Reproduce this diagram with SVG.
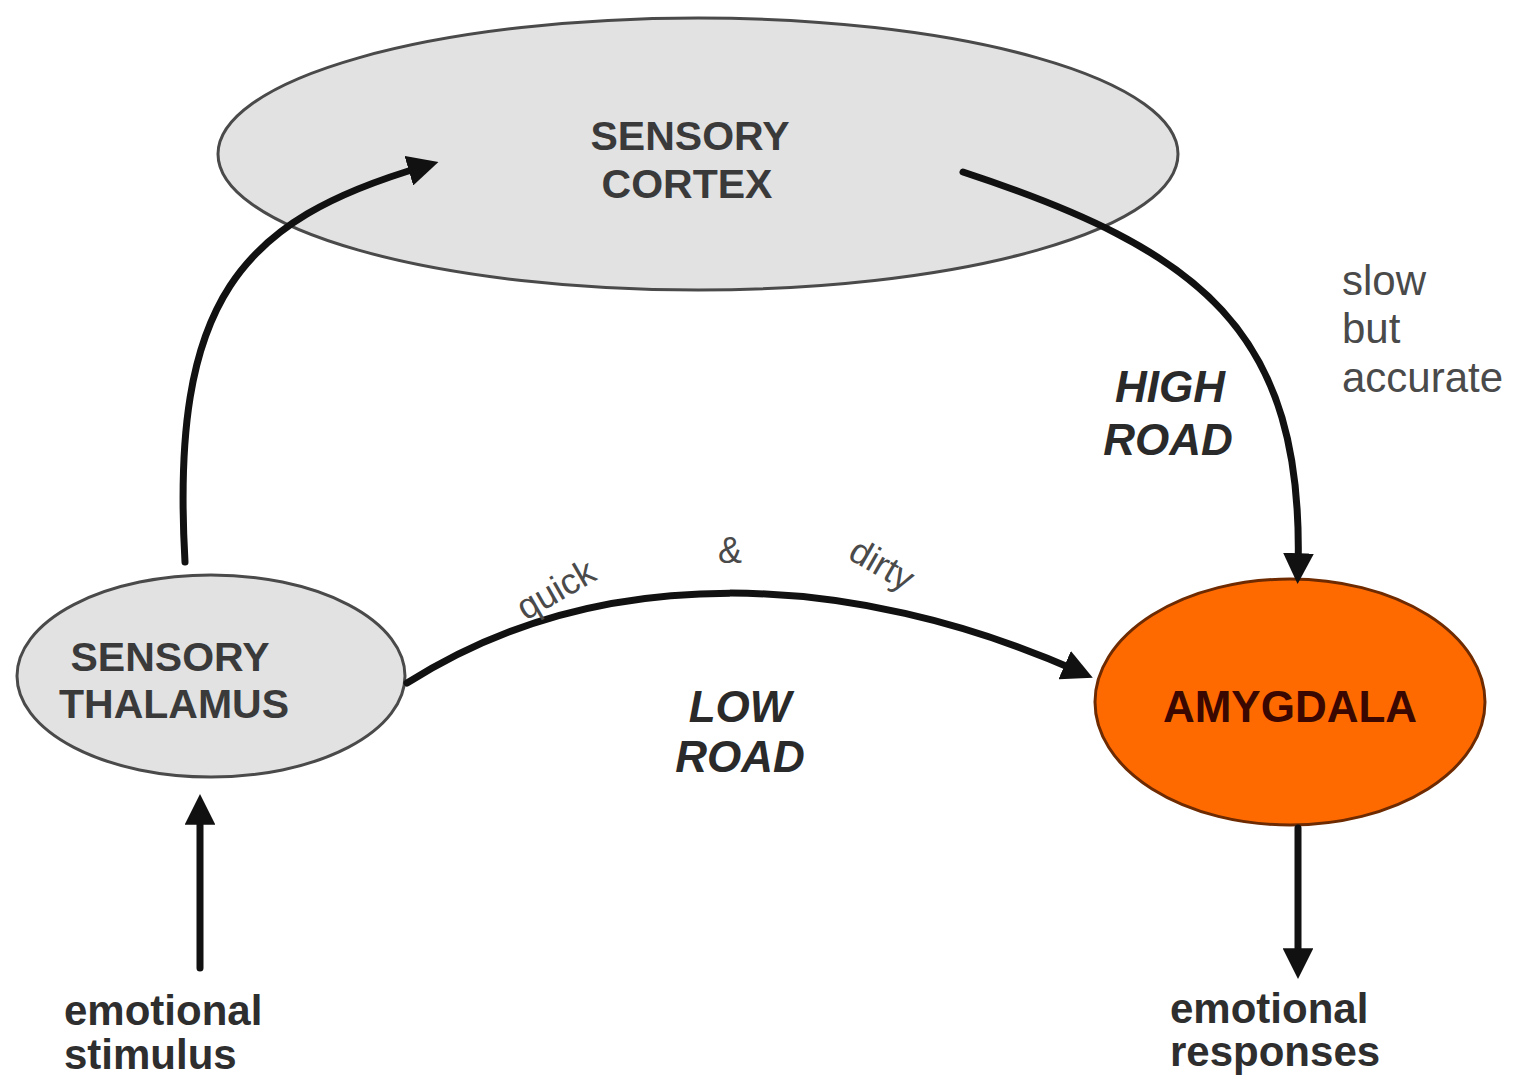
<svg xmlns="http://www.w3.org/2000/svg" width="1524" height="1081" viewBox="0 0 1524 1081">
<style>
.node{fill:#e2e2e2;stroke:#4a4a4a;stroke-width:3}
.lbl{font-family:"Liberation Sans",Arial,sans-serif;font-weight:bold;fill:#3a3a3a;text-anchor:middle}
.road{font-family:"Liberation Sans",Arial,sans-serif;font-weight:bold;font-style:italic;fill:#2a2a2a;text-anchor:middle;font-size:44px}
.note{font-family:"Liberation Sans",Arial,sans-serif;fill:#4a4a4a;font-size:42px}
.small{font-family:"Liberation Sans",Arial,sans-serif;fill:#4a4a4a;font-size:36px;text-anchor:middle}
.io{font-family:"Liberation Sans",Arial,sans-serif;font-weight:bold;fill:#2e2e2e;font-size:42px}
.conn{fill:none;stroke:#111;stroke-width:7;stroke-linecap:round;marker-end:url(#ah)}
</style>
<defs>
<marker id="ah" markerWidth="4.4" markerHeight="4.4" refX="2.4" refY="2.2" orient="auto" markerUnits="strokeWidth" viewBox="0 0 4.4 4.4">
<path d="M0,0 L4.4,2.2 L0,4.4 Z" fill="#111"/>
</marker>
</defs>
<rect width="1524" height="1081" fill="#fff"/>
<g id="cortex">
<ellipse class="node" cx="698" cy="154" rx="480" ry="136"/>
<text class="lbl" x="690" y="150" font-size="41">SENSORY</text>
<text class="lbl" x="687" y="198" font-size="41">CORTEX</text>
</g>
<g id="thalamus">
<ellipse class="node" cx="211" cy="676" rx="194" ry="101"/>
<text class="lbl" x="170" y="671" font-size="41">SENSORY</text>
<text class="lbl" x="174" y="718" font-size="41">THALAMUS</text>
</g>
<g id="amygdala">
<ellipse cx="1290" cy="702" rx="195" ry="123" fill="#ff6a00" stroke="#6e2a00" stroke-width="3"/>
<text class="lbl" x="1290" y="722" font-size="44" style="fill:#3a0800">AMYGDALA</text>
</g>
<g id="connectors">
<path class="conn" d="M185,562 C170,300 240,220 425,166"/>
<path class="conn" d="M963,172 C1200,250 1305,330 1298,570"/>
<path class="conn" d="M407,683 C600,560 850,570 1080,672"/>
<path class="conn" d="M200,968 L200,808"/>
<path class="conn" d="M1298,828 L1298,965"/>
</g>
<g id="labels">
<text class="road" x="1170" y="402">HIGH</text>
<text class="road" x="1168" y="455">ROAD</text>
<text class="road" x="740" y="722">LOW</text>
<text class="road" x="740" y="772">ROAD</text>
<text class="note" x="1342" y="295">slow</text>
<text class="note" x="1342" y="343">but</text>
<text class="note" x="1342" y="392">accurate</text>
<text class="small" transform="translate(562,600) rotate(-30)">quick</text>
<text class="small" x="730" y="563">&amp;</text>
<text class="small" transform="translate(876,575) rotate(30)">dirty</text>
<text class="io" x="64" y="1025">emotional</text>
<text class="io" x="64" y="1069">stimulus</text>
<text class="io" x="1170" y="1023">emotional</text>
<text class="io" x="1170" y="1066">responses</text>
</g>
</svg>
